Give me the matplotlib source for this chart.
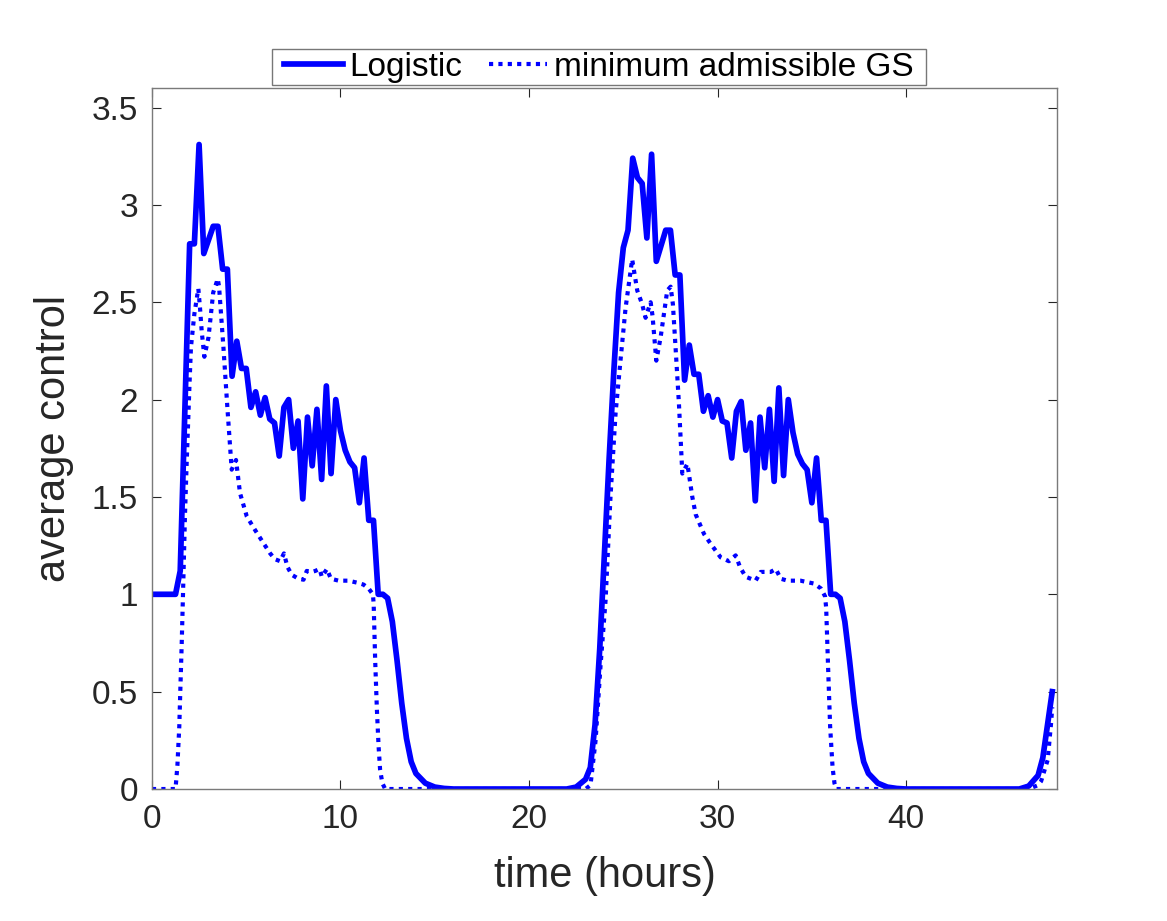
import matplotlib
matplotlib.use("Agg")
import matplotlib.pyplot as plt
from matplotlib.path import Path

# ---------------- data ----------------
t_logistic = [0, 1.25, 1.5, 2.0, 2.25, 2.5, 2.75, 3.0, 3.25, 3.5, 3.75, 4.0, 4.25, 4.5, 4.75,
              5.0, 5.25, 5.5, 5.75, 6.0, 6.25, 6.5, 6.75, 7.0, 7.25, 7.5, 7.75, 8.0, 8.25,
              8.5, 8.75, 9.0, 9.25, 9.5, 9.75, 10.0, 10.25, 10.5, 10.75, 11.0, 11.25, 11.5,
              11.75, 12.0, 12.25, 12.5, 12.75, 13.0, 13.25, 13.5, 13.75, 14.0, 14.5, 15.0,
              15.5, 16.0,
              22.0, 22.5, 23.0, 23.25, 23.5, 23.75, 24.0, 24.25, 24.5, 24.75, 25.0, 25.25,
              25.5, 25.75, 26.0, 26.25, 26.5, 26.75, 27.0, 27.25, 27.5, 27.75, 28.0, 28.25,
              28.5, 28.75, 29.0, 29.25, 29.5, 29.75, 30.0, 30.25, 30.5, 30.75, 31.0, 31.25,
              31.5, 31.75, 32.0, 32.25, 32.5, 32.75, 33.0, 33.25, 33.5, 33.75, 34.0, 34.25,
              34.5, 34.75, 35.0, 35.25, 35.5, 35.75, 36.0, 36.25, 36.5, 36.75, 37.0, 37.25,
              37.5, 37.75, 38.0, 38.5, 39.0, 39.5, 40.0,
              46.0, 46.5, 47.0, 47.25, 47.5, 47.75]
v_logistic = [1.0, 1.0, 1.12, 2.80, 2.80, 3.31, 2.75, 2.82, 2.89, 2.89, 2.67, 2.67, 2.12, 2.30, 2.16,
              2.16, 1.96, 2.04, 1.92, 2.01, 1.90, 1.88, 1.71, 1.96, 2.00, 1.75, 1.89, 1.49, 1.91,
              1.66, 1.95, 1.59, 2.07, 1.62, 2.00, 1.84, 1.74, 1.68, 1.65, 1.47, 1.70, 1.38,
              1.38, 1.00, 1.00, 0.98, 0.86, 0.66, 0.44, 0.26, 0.14, 0.08, 0.03, 0.01,
              0.003, 0.0,
              0.0, 0.01, 0.05, 0.11, 0.33, 0.72, 1.21, 1.70, 2.15, 2.55, 2.78, 2.87,
              3.24, 3.14, 3.11, 2.83, 3.26, 2.71, 2.79, 2.87, 2.87, 2.64, 2.64, 2.10,
              2.28, 2.13, 2.13, 1.94, 2.02, 1.91, 2.00, 1.89, 1.88, 1.70, 1.94, 1.99,
              1.74, 1.88, 1.48, 1.91, 1.65, 1.95, 1.58, 2.06, 1.61, 2.00, 1.83, 1.72,
              1.67, 1.64, 1.47, 1.70, 1.38, 1.38, 1.00, 1.00, 0.98, 0.86, 0.66, 0.44,
              0.26, 0.14, 0.08, 0.03, 0.01, 0.003, 0.0,
              0.0, 0.015, 0.07, 0.16, 0.33, 0.50]

t_gs = [0, 1.25, 1.35, 1.45, 1.5, 1.58, 1.66, 1.75, 1.84, 2.0, 2.07, 2.25, 2.46, 2.55, 2.64,
        2.78, 3.0, 3.25, 3.49, 3.56, 3.79, 4.0, 4.23, 4.46, 4.67, 5.03, 5.47, 6.0, 6.27,
        6.53, 6.8, 7.0, 7.19, 7.42, 7.77, 8.04, 8.21, 8.48, 8.66, 8.89, 9.01, 9.28, 9.49,
        9.9, 10.43, 10.87, 11.22, 11.49, 11.72, 11.76, 11.84, 11.93, 12.02, 12.1, 12.22,
        12.37,
        23.0, 23.26, 23.53, 23.79, 24.06, 24.32, 24.59, 24.85, 25.12, 25.47, 25.74, 26.0,
        26.18, 26.45, 26.55, 26.75, 26.98, 27.33, 27.51, 27.63, 27.77, 27.95, 28.13, 28.4,
        28.66, 28.84, 29.28, 29.63, 30.16, 30.6, 30.96, 31.19, 31.49, 32.02, 32.29, 32.82,
        33.09, 33.35, 33.71, 34.4, 35.12, 35.48, 35.7, 35.76, 35.86, 35.97, 36.1, 36.2,
        36.3,
        46.5, 47.0, 47.16, 47.51, 47.69, 47.75]
v_gs = [0.0, 0.0, 0.12, 0.32, 0.49, 0.75, 1.05, 1.40, 1.67, 2.10, 2.27, 2.44, 2.57, 2.47, 2.35,
        2.22, 2.32, 2.55, 2.62, 2.58, 2.27, 1.96, 1.64, 1.69, 1.52, 1.40, 1.33, 1.25, 1.21,
        1.18, 1.17, 1.21, 1.14, 1.10, 1.08, 1.075, 1.12, 1.115, 1.12, 1.13, 1.09, 1.13, 1.08,
        1.07, 1.07, 1.06, 1.05, 1.03, 1.0, 0.95, 0.66, 0.41, 0.22, 0.10, 0.03,
        0.0,
        0.0, 0.02, 0.25, 0.63, 0.97, 1.50, 1.93, 2.20, 2.47, 2.72, 2.56, 2.49,
        2.42, 2.50, 2.43, 2.20, 2.32, 2.56, 2.58, 2.49, 2.27, 1.98, 1.62, 1.67,
        1.50, 1.41, 1.31, 1.26, 1.19, 1.17, 1.20, 1.14, 1.09, 1.07, 1.115, 1.115,
        1.13, 1.08, 1.07, 1.07, 1.055, 1.03, 0.99, 0.93, 0.63, 0.32, 0.11, 0.03,
        0.0,
        0.0, 0.02, 0.04, 0.15, 0.34, 0.42]

series_labels = ["Logistic", "minimum admissible GS"]
x_ticks = [0, 10, 20, 30, 40]
y_ticks = [0, 0.5, 1, 1.5, 2, 2.5, 3, 3.5]
y_tick_labels = ["0", "0.5", "1", "1.5", "2", "2.5", "3", "3.5"]

# ---------------- plot ----------------
plt.rcParams['font.family'] = ['Liberation Sans', 'DejaVu Sans']

fig = plt.figure(figsize=(11.67, 9.21), dpi=100)
ax = fig.add_axes([0.1302, 0.1433, 0.7755, 0.7611])

ax.plot(t_logistic, v_logistic, color=(0, 0, 1), lw=4.1, solid_joinstyle='round',
        label=series_labels[0])
ax.plot(t_gs, v_gs, color=(0, 0, 1), lw=3.0, linestyle=(0, (1, 1.25)),
        dash_capstyle='butt', label=series_labels[1])

ax.set_xlim(0, 48)
ax.set_ylim(0, 3.6)
ax.set_xticks(x_ticks)
ax.set_yticks(y_ticks)
ax.set_yticklabels(y_tick_labels)

txt_color = '#262626'
ax.tick_params(direction='in', length=6.5, width=0.8, colors=txt_color,
               labelsize=24, top=True, right=True)
ax.tick_params(axis='x', pad=11)
ax.tick_params(axis='y', pad=10)
for s in ax.spines.values():
    s.set_color('#7a7a7a')
    s.set_linewidth(1.0)

ax.set_xlabel("time (hours)", fontsize=30, color=txt_color, labelpad=15)
ax.set_ylabel("average control", fontsize=30, color=txt_color, labelpad=13)

leg = ax.legend(loc='lower center', bbox_to_anchor=(0.494, 1.004), ncol=2,
                fontsize=24, frameon=True, fancybox=False, framealpha=1,
                borderpad=0.08, handletextpad=0.2, columnspacing=0.8,
                handlelength=1.75, borderaxespad=0)


def wide_box(x0, y0, width, height, mutation_size):
    """Rectangle frame with extra horizontal padding only."""
    px = 0.28 * mutation_size
    x0 -= px
    width += 2 * px
    return Path([(x0, y0), (x0 + width, y0), (x0 + width, y0 + height),
                 (x0, y0 + height), (x0, y0)],
                [Path.MOVETO, Path.LINETO, Path.LINETO, Path.LINETO, Path.CLOSEPOLY])


frame = leg.get_frame()
frame.set_boxstyle(wide_box)
frame.set_edgecolor('#777777')
frame.set_linewidth(1.0)

fig.savefig("out.png", dpi=100, facecolor='white')
